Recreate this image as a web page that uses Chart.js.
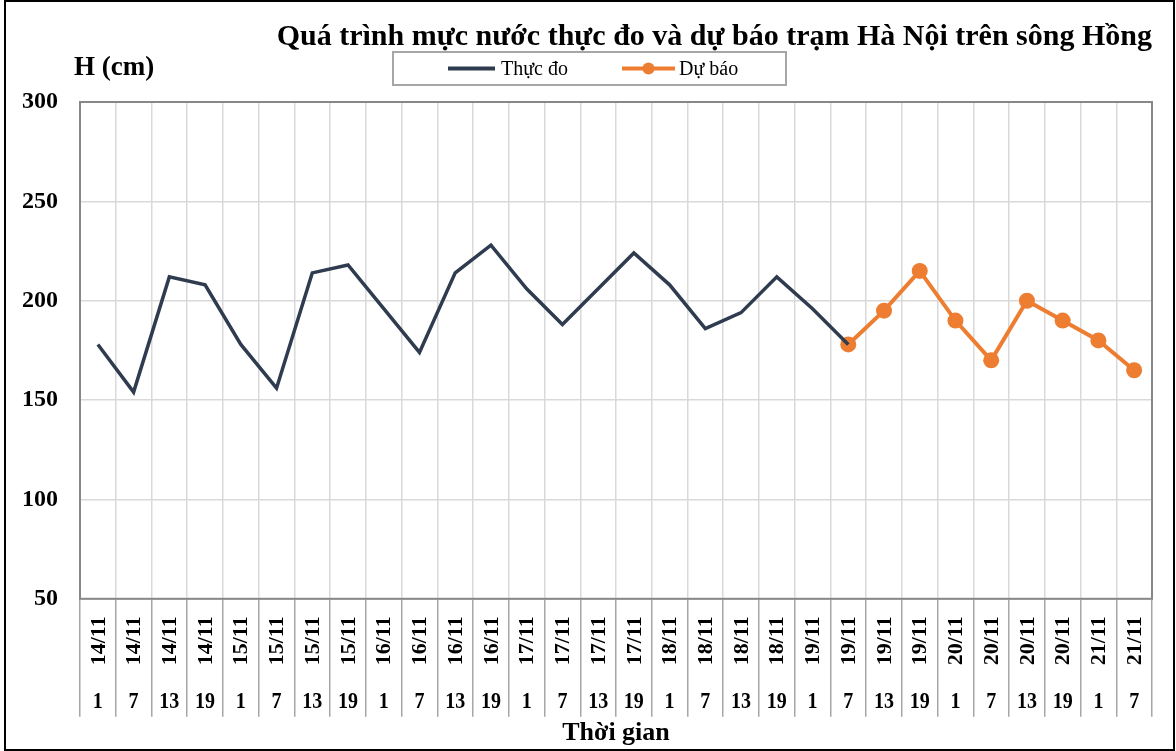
<!DOCTYPE html>
<html>
<head>
<meta charset="utf-8">
<script src="https://cdn.jsdelivr.net/npm/chart.js@4"></script>
<style>
    body { margin: 0; background: #fff; }
    #wrap { width: 1176px; height: 751px; }
</style>
</head>
<body>
<div id="wrap"><canvas id="levelChart" width="1176" height="751"></canvas></div>
<script>
const dateLabels = ['14/11', '14/11', '14/11', '14/11', '15/11', '15/11', '15/11', '15/11',
    '16/11', '16/11', '16/11', '16/11', '17/11', '17/11', '17/11', '17/11',
    '18/11', '18/11', '18/11', '18/11', '19/11', '19/11', '19/11', '19/11',
    '20/11', '20/11', '20/11', '20/11', '21/11', '21/11'];
const hourLabels = ['1', '7', '13', '19', '1', '7', '13', '19',
    '1', '7', '13', '19', '1', '7', '13', '19',
    '1', '7', '13', '19', '1', '7', '13', '19',
    '1', '7', '13', '19', '1', '7'];

// Thực đo (measured), ends at 19/11 7h
const measured = [178, 154, 212, 208, 178, 156, 214, 218,
    196, 174, 214, 228, 206, 188, 206, 224,
    208, 186, 194, 212, 196, 178];
// Dự báo (forecast), starts at 19/11 7h
const forecast = [null, null, null, null, null, null, null, null,
    null, null, null, null, null, null, null, null,
    null, null, null, null, null, 178, 195, 215,
    190, 170, 200, 190, 180, 165];

const yTicks = [50, 100, 150, 200, 250, 300];

const SERIF = "'Liberation Serif', 'Times New Roman', serif";
const NAVY = '#2f3b4e';
const ORANGE = '#ed7d31';

// frame, y-axis unit, two-row x labels, legend box
const decorPlugin = {
    id: 'decor',
    afterDraw(chart) {
        const { ctx, chartArea, scales: { x } } = chart;
        const ds = chart.data.datasets;
        ctx.save();

        // plot frame
        ctx.strokeStyle = '#878787';
        ctx.lineWidth = 2;
        ctx.strokeRect(chartArea.left, chartArea.top, chartArea.right - chartArea.left, chartArea.bottom - chartArea.top);

        // outer frame
        ctx.strokeStyle = '#000';
        ctx.lineWidth = 2;
        ctx.strokeRect(5, 1, chart.width - 7, chart.height - 2);

        // unit label
        ctx.fillStyle = '#000';
        ctx.font = 'bold 27px ' + SERIF;
        ctx.textAlign = 'left';
        ctx.textBaseline = 'middle';
        ctx.fillText('H (cm)', 74, 68);

        // category labels: date rotated, hour below
        dateLabels.forEach((d, i) => {
            const px = x.getPixelForValue(i);
            ctx.save();
            ctx.translate(px, chartArea.bottom + 42);
            ctx.rotate(-Math.PI / 2);
            ctx.font = 'bold 22px ' + SERIF;
            ctx.textAlign = 'center';
            ctx.textBaseline = 'middle';
            ctx.fillText(d, 0, 1);
            ctx.restore();

            ctx.save();
            ctx.translate(px, chartArea.bottom + 103);
            ctx.scale(1, 1.15);
            ctx.font = 'bold 20px ' + SERIF;
            ctx.textAlign = 'center';
            ctx.textBaseline = 'middle';
            ctx.fillText(hourLabels[i], 0, 0);
            ctx.restore();
        });

        // legend
        const lx = 393, ly = 52, lw = 393, lh = 33, cy = ly + lh / 2;
        ctx.strokeStyle = '#a6a6a6';
        ctx.lineWidth = 2;
        ctx.strokeRect(lx, ly, lw, lh);
        ctx.font = '20px ' + SERIF;
        ctx.textAlign = 'left';
        ctx.textBaseline = 'middle';
        const items = [{ x0: 448, x1: 495, tx: 501 }, { x0: 622, x1: 675, tx: 679 }];
        items.forEach((it, i) => {
            ctx.strokeStyle = ds[i].borderColor;
            ctx.lineWidth = 4;
            ctx.beginPath();
            ctx.moveTo(it.x0, cy);
            ctx.lineTo(it.x1, cy);
            ctx.stroke();
            if (ds[i].pointRadius > 0) {
                ctx.fillStyle = ds[i].borderColor;
                ctx.beginPath();
                ctx.arc((it.x0 + it.x1) / 2, cy, 6, 0, Math.PI * 2);
                ctx.fill();
            }
            ctx.fillStyle = '#000';
            ctx.fillText(ds[i].label, it.tx, cy + 1);
        });
        ctx.restore();
    }
};

new Chart(document.getElementById('levelChart'), {
    type: 'line',
    data: {
        labels: dateLabels.map((d, i) => d + ' ' + hourLabels[i]),
        datasets: [{
            label: 'Thực đo',
            data: measured,
            borderColor: NAVY,
            backgroundColor: NAVY,
            borderWidth: 3.5,
            pointRadius: 0,
            tension: 0
        }, {
            label: 'Dự báo',
            data: forecast,
            borderColor: ORANGE,
            backgroundColor: ORANGE,
            borderWidth: 4,
            pointRadius: 8,
            pointBackgroundColor: ORANGE,
            pointBorderWidth: 0,
            tension: 0
        }]
    },
    options: {
        responsive: false,
        animation: false,
        devicePixelRatio: 1,
        layout: { padding: { left: 0, right: 24, top: 0, bottom: 2 } },
        plugins: {
            title: {
                display: true,
                text: 'Quá trình mực nước thực đo và dự báo trạm Hà Nội trên sông Hồng',
                align: 'end',
                color: '#000',
                font: { family: SERIF, size: 30, weight: 'bold' },
                padding: { top: 19, bottom: 47 }
            },
            legend: { display: false },
            tooltip: { enabled: false }
        },
        scales: {
            x: {
                type: 'category',
                offset: true,
                grid: {
                    offset: true,
                    color: '#d9d9d9',
                    tickColor: '#a6a6a6',
                    tickLength: 118,
                    lineWidth: 1.5
                },
                border: { display: false },
                ticks: { display: false },
                title: {
                    display: true,
                    text: 'Thời gian',
                    color: '#000',
                    font: { family: SERIF, size: 26, weight: 'bold' },
                    padding: { top: 1, bottom: 0 }
                }
            },
            y: {
                min: 50,
                max: 300,
                afterBuildTicks(scale) {
                    scale.ticks = yTicks.map(v => ({ value: v }));
                },
                grid: { color: '#d9d9d9', lineWidth: 1.5, drawTicks: false },
                border: { display: false },
                ticks: {
                    color: '#000',
                    font: { family: SERIF, size: 24, weight: 'bold' },
                    padding: 22
                }
            }
        }
    },
    plugins: [decorPlugin]
});
</script>
</body>
</html>
